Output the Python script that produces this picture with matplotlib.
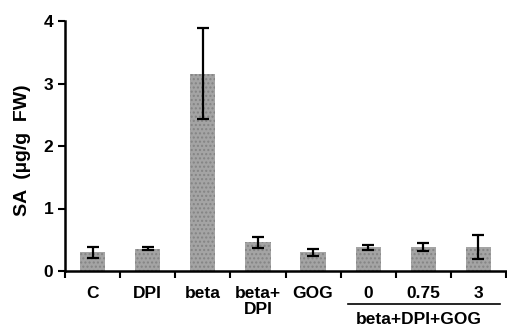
import numpy as np
import matplotlib.pyplot as plt

# Data
labels = ['C', 'DPI', 'beta', 'beta+\nDPI', 'GOG', '0', '0.75', '3']
sa_mean = [0.30, 0.36, 3.16, 0.46, 0.30, 0.38, 0.38, 0.38]
sa_err = [0.085, 0.03, 0.73, 0.085, 0.055, 0.04, 0.065, 0.19]
group_label = 'beta+DPI+GOG'

plt.rcParams['font.family'] = ['Liberation Sans', 'DejaVu Sans']
plt.rcParams['font.weight'] = 'bold'
plt.rcParams['hatch.linewidth'] = 1.0

fig = plt.figure(figsize=(5.07, 3.31), dpi=100)
ax = fig.add_axes([65 / 507, 1 - 271 / 331, 441 / 507, 250 / 331])

x = np.arange(len(labels))
ax.bar(x, sa_mean, width=0.46, color='#a4a4a4', edgecolor='#848484', linewidth=0,
       hatch='....')
ax.errorbar(x, sa_mean, yerr=sa_err, fmt='none', ecolor='black', elinewidth=1.6,
            capsize=4, capthick=1.6)

ax.set_xlim(-0.5, len(labels) - 0.5)
ax.set_ylim(0, 4)
ax.set_yticks([0, 1, 2, 3, 4])
ax.set_xticks(np.arange(len(labels) + 1) - 0.5)
ax.set_xticklabels([])
ax.tick_params(axis='both', direction='out', length=5, width=1.5, labelsize=12.5)
for t in ax.get_yticklabels():
    t.set_fontweight('bold')

for xi, lab in zip(x, labels):
    ax.text(xi, -0.24, lab, ha='center', va='top', fontsize=12.5, fontweight='bold',
            linespacing=1.05)

ax.spines['top'].set_visible(False)
ax.spines['right'].set_visible(False)
ax.spines['left'].set_linewidth(1.8)
ax.spines['bottom'].set_linewidth(1.8)

# group line and label under the last three bars
ax.plot([4.64, 7.39], [-0.53, -0.53], color='black', lw=1.2, clip_on=False)
ax.text(5.92, -0.66, group_label, ha='center', va='top', fontsize=12.5, fontweight='bold')

fig.text(23 / 507, 1 - 150 / 331, 'SA  (µg/g  FW)', rotation=90, ha='center', va='center',
         fontsize=14, fontweight='bold')

fig.savefig('out.png', dpi=100)
